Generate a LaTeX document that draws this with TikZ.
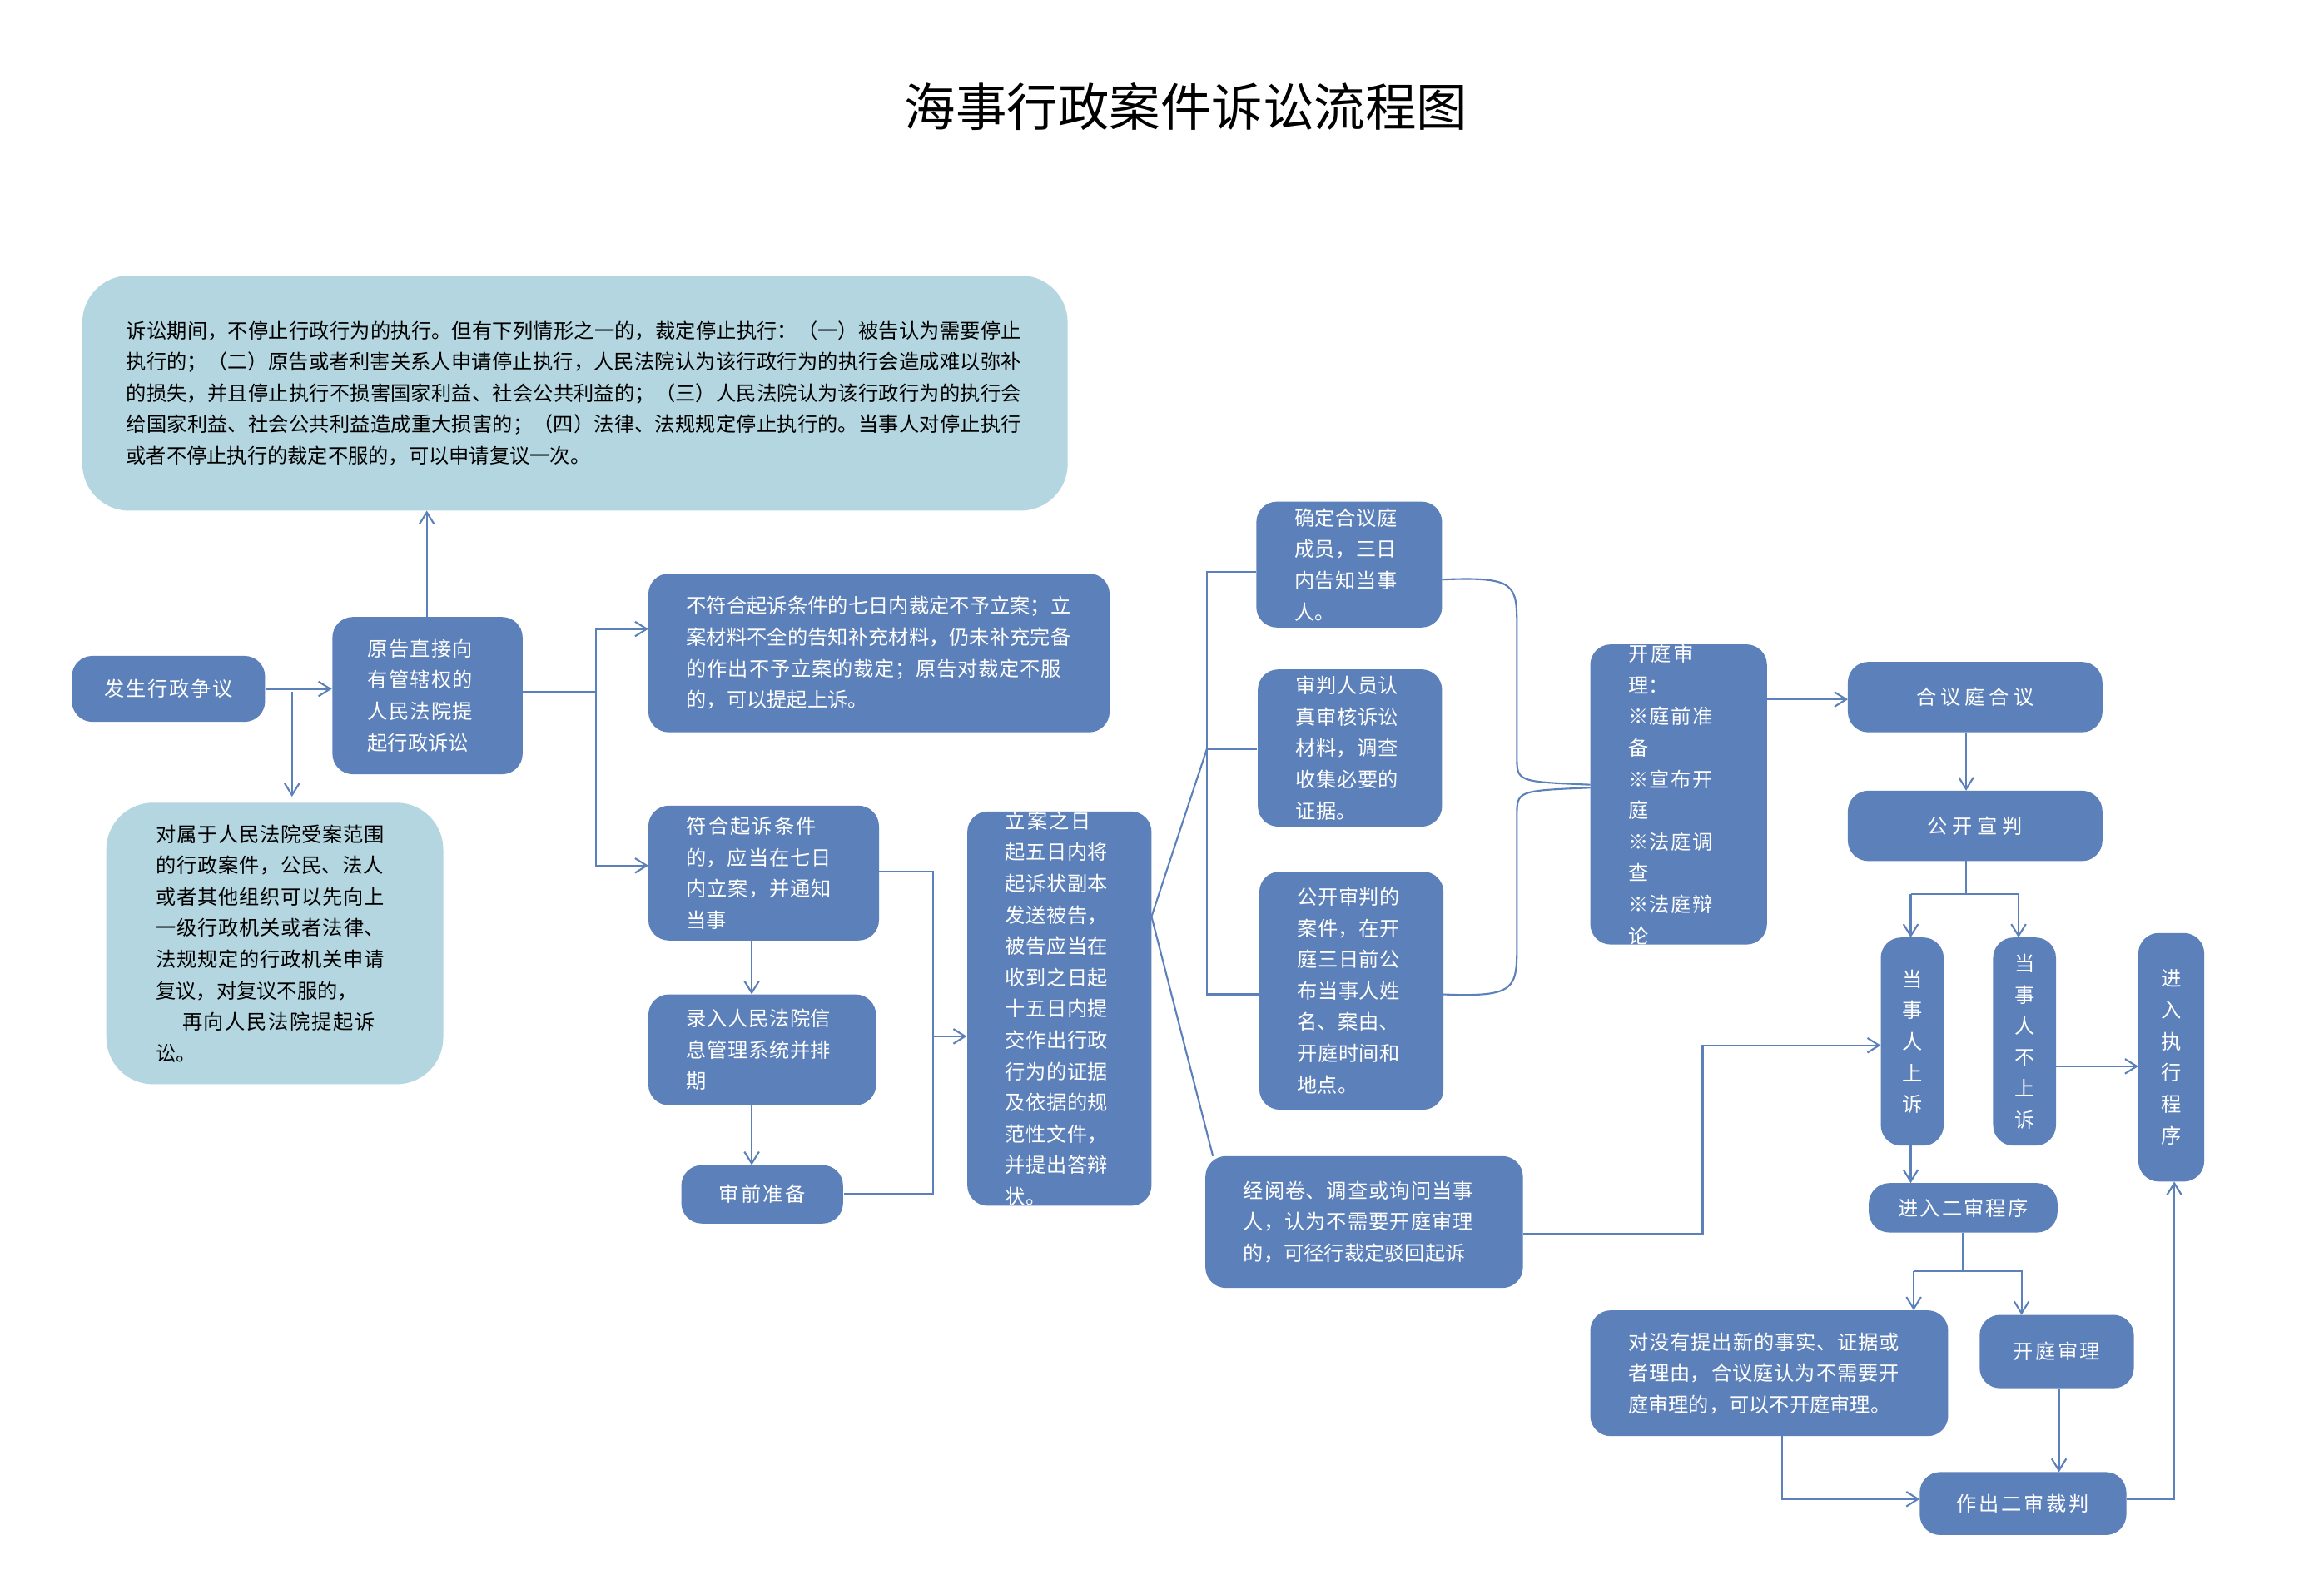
\documentclass[tikz,border=0pt]{standalone}
\usepackage{fontspec}
\setmainfont{Noto Sans CJK SC}
\XeTeXlinebreaklocale "zh"
\XeTeXlinebreakskip = 0pt plus 1pt
\usetikzlibrary{arrows.meta}
\definecolor{bb}{RGB}{92,128,186}
\definecolor{lb}{RGB}{180,214,224}
\newcommand\bx[8]{\node[#6,minimum width={(#4-#2)*0.01799cm},minimum height={(#5-#3)*0.01799cm},text width={(#4-#2)*0.01799cm-#7}] (#1) at ({(#2+#4)/2},{(#3+#5)/2}) {#8};}
\tikzset{
 bbox/.style={rectangle,rounded corners=7pt,fill=bb,text=white,inner sep=0pt,align=left,font=\fontsize{6.9}{10.7}\selectfont},
 lbox/.style={rectangle,rounded corners=16pt,fill=lb,text=black,inner sep=0pt,align=left,font=\fontsize{6.9}{10.7}\selectfont},
 cbox/.style={bbox,align=center},
 ln/.style={draw=bb,line width=0.6pt},
 ar/.style={ln,-{Straight Barb[length=4pt,width=5pt]}}
}
\begin{document}
\begin{tikzpicture}[x=0.01799cm,y=-0.01799cm]
\fill[white] (0,0) rectangle (1552,1048);
\node[font=\fontsize{17.5}{20}\selectfont] (title) at (792,71) {海事行政案件诉讼流程图};
\bx{A}{55}{184}{713}{341}{lbox}{30pt}{诉讼期间，不停止行政行为的执行。但有下列情形之一的，裁定停止执行：（一）被告认为需要停止执行的；（二）原告或者利害关系人申请停止执行，人民法院认为该行政行为的执行会造成难以弥补的损失，并且停止执行不损害国家利益、社会公共利益的；（三）人民法院认为该行政行为的执行会给国家利益、社会公共利益造成重大损害的；（四）法律、法规规定停止执行的。当事人对停止执行或者不停止执行的裁定不服的，可以申请复议一次。}
\bx{B}{48}{438}{177}{482}{cbox}{8pt}{发生行政争议}
\bx{C}{222}{412}{349}{517}{bbox}{24pt}{原告直接向有管辖权的人民法院提起行政诉讼}
\bx{D}{71}{536}{296}{724}{lbox}{34pt}{对属于人民法院受案范围的行政案件，公民、法人或者其他组织可以先向上一级行政机关或者法律、法规规定的行政机关申请复议，对复议不服的，\\\hspace*{1.3em}再向人民法院提起诉讼。}
\bx{E}{433}{383}{741}{489}{bbox}{26pt}{不符合起诉条件的七日内裁定不予立案；立案材料不全的告知补充材料，仍未补充完备的作出不予立案的裁定；原告对裁定不服的，可以提起上诉。}
\bx{F}{433}{538}{587}{628}{bbox}{26pt}{符合起诉条件的，应当在七日内立案，并通知当事}
\bx{G}{433}{664}{585}{738}{bbox}{26pt}{录入人民法院信息管理系统并排期}
\bx{H}{455}{778}{563}{817}{cbox}{8pt}{审前准备}
\bx{I}{646}{543}{769}{804}{bbox}{26pt}{立案之日起五日内将起诉状副本发送被告，被告应当在收到之日起十五日内提交作出行政行为的证据及依据的规范性文件，并提出答辩状。}
\bx{J}{839}{335}{963}{419}{bbox}{26pt}{确定合议庭成员，三日内告知当事人。}
\bx{K}{840}{447}{963}{552}{bbox}{26pt}{审判人员认真审核诉讼材料，调查收集必要的证据。}
\bx{L}{841}{582}{964}{741}{bbox}{26pt}{公开审判的案件，在开庭三日前公布当事人姓名、案由、开庭时间和地点。}
\bx{M}{805}{772}{1017}{860}{bbox}{26pt}{经阅卷、调查或询问当事人，认为不需要开庭审理的，可径行裁定驳回起诉}
\bx{N}{1062}{449}{1180}{612}{bbox}{26pt}{开庭审理：\\※庭前准备\\※宣布开庭\\※法庭调查\\※法庭辩论}
\bx{O}{1234}{442}{1404}{489}{cbox}{8pt}{合议庭合议}
\bx{P}{1234}{528}{1404}{575}{cbox}{8pt}{公开宣判}
\bx{Q}{1256}{626}{1298}{765}{cbox}{2pt}{当\\事\\人\\上\\诉}
\bx{R}{1331}{626}{1373}{765}{cbox}{2pt}{当\\事\\人\\不\\上\\诉}
\bx{S}{1428}{623}{1472}{789}{cbox}{2pt}{进\\入\\执\\行\\程\\序}
\bx{T}{1248}{790}{1374}{823}{cbox}{4pt}{进入二审程序}
\bx{U}{1062}{875}{1301}{959}{bbox}{26pt}{对没有提出新的事实、证据或者理由，合议庭认为不需要开庭审理的，可以不开庭审理。}
\bx{V}{1322}{878}{1425}{927}{cbox}{4pt}{开庭审理}
\bx{W}{1282}{983}{1420}{1025}{cbox}{4pt}{作出二审裁判}
% connectors
\draw[ar] (285,412) -- (285,341);
\draw[ar] (B.east) -- (C.west |- B.east);
\draw[ar] (195,462) -- (195,532);
\draw[ln] (349,462) -- (398,462);
\draw[ar] (398,462) |- (433,420);
\draw[ar] (398,462) |- (433,578);
\draw[ar] (502,628) -- (502,664);
\draw[ar] (502,738) -- (502,778);
\draw[ln] (587,582) -| (623,797) -- (H.east |- 0,797);
\draw[ar] (623,692) -- (I.west |- 0,692);
\draw[ln] (769,612) -- (806,500);
\draw[ln] (J.west |- 0,382) -| (806,664) -- (L.west |- 0,664);
\draw[ln] (806,500) -- (K.west |- 0,500);
\draw[ln] (769,612) -- (810,772);
\draw[ln] (963,387) .. controls (1013,385) and (1013,390) .. (1013,420) -- (1013,505) .. controls (1013,522) .. (1062,524);
\draw[ln] (964,664) .. controls (1013,666) and (1013,660) .. (1013,630) -- (1013,545) .. controls (1013,528) .. (1062,526);
\draw[ar] (1180,467) -- (1234,467);
\draw[ar] (1313,489) -- (1313,528);
\draw[ln] (1313,575) -- (1313,597);
\draw[ar] (1276,597) -- (1276,626);
\draw[ar] (1276,597) -| (1348,626);
\draw[ar] (1373,712) -- (1428,712);
\draw[ar] (1017,824) -| (1137,698) -- (1256,698);
\draw[ar] (1276,765) -- (1276,790);
\draw[ln] (1311,823) -- (1311,849);
\draw[ar] (1278,849) -- (1278,875);
\draw[ar] (1278,849) -| (1350,878);
\draw[ar] (1375,927) -- (1375,983);
\draw[ar] (1190,959) |- (1282,1001);
\draw[ar] (1420,1001) -| (1452,789);
\end{tikzpicture}
\end{document}
